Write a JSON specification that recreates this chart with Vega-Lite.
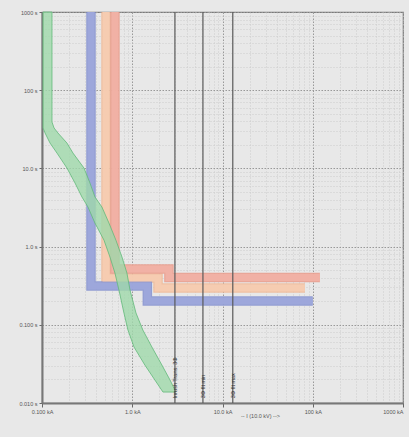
{
  "$schema": "https://vega.github.io/schema/vega-lite/v6.json",
  "width": 361,
  "height": 391,
  "autosize": {"type": "none"},
  "padding": {"left": 42, "top": 12, "right": 6, "bottom": 34},
  "background": "#e8e8e8",
  "config": {
    "view": {"stroke": "#7a7a7a", "strokeWidth": 1.2},
    "font": "Liberation Sans"
  },
  "datasets": {
    "bands": [
      {"s": "orange", "o": 1, "I": 0.512, "t": 1000},
      {"s": "orange", "o": 2, "I": 0.512, "t": 0.396},
      {"s": "orange", "o": 3, "I": 1.93, "t": 0.396},
      {"s": "orange", "o": 4, "I": 1.93, "t": 0.296},
      {"s": "orange", "o": 5, "I": 81.7, "t": 0.296},
      {"s": "red", "o": 1, "I": 0.643, "t": 1000},
      {"s": "red", "o": 2, "I": 0.643, "t": 0.518},
      {"s": "red", "o": 3, "I": 2.55, "t": 0.518},
      {"s": "red", "o": 4, "I": 2.55, "t": 0.403},
      {"s": "red", "o": 5, "I": 120, "t": 0.403},
      {"s": "blue", "o": 1, "I": 0.349, "t": 1000},
      {"s": "blue", "o": 2, "I": 0.349, "t": 0.313},
      {"s": "blue", "o": 3, "I": 1.47, "t": 0.313},
      {"s": "blue", "o": 4, "I": 1.47, "t": 0.201},
      {"s": "blue", "o": 5, "I": 100, "t": 0.201}
    ],
    "green": [
      {"t": 1000, "lo": 0.1026, "hi": 0.129},
      {"t": 39.2, "lo": 0.1026, "hi": 0.129},
      {"t": 32.9, "lo": 0.1026, "hi": 0.136},
      {"t": 28.4, "lo": 0.108, "hi": 0.150},
      {"t": 21.1, "lo": 0.1227, "hi": 0.189},
      {"t": 15.7, "lo": 0.1466, "hi": 0.2205},
      {"t": 10.1, "lo": 0.189, "hi": 0.292},
      {"t": 6.51, "lo": 0.232, "hi": 0.340},
      {"t": 4.31, "lo": 0.277, "hi": 0.386},
      {"t": 3.21, "lo": 0.323, "hi": 0.461},
      {"t": 2.00, "lo": 0.386, "hi": 0.552},
      {"t": 1.21, "lo": 0.486, "hi": 0.659},
      {"t": 0.736, "lo": 0.566, "hi": 0.769},
      {"t": 0.459, "lo": 0.643, "hi": 0.873},
      {"t": 0.279, "lo": 0.712, "hi": 0.944},
      {"t": 0.1416, "lo": 0.809, "hi": 1.10},
      {"t": 0.0858, "lo": 0.896, "hi": 1.31},
      {"t": 0.052, "lo": 1.045, "hi": 1.65},
      {"t": 0.0306, "lo": 1.38, "hi": 2.13},
      {"t": 0.0197, "lo": 1.78, "hi": 2.62},
      {"t": 0.0138, "lo": 2.19, "hi": 3.05}
    ],
    "faults": [
      {"I": 2.97, "label": "Inrush Trans. 3Φ"},
      {"I": 6.07, "label": "3Φ flt min"},
      {"I": 13.0, "label": "3Φ flt max"}
    ]
  },
  "layer": [
    {
      "data": {"name": "bands"},
      "mark": {"type": "line", "strokeWidth": 9.5, "strokeCap": "butt", "strokeJoin": "miter", "opacity": 0.85},
      "encoding": {
        "x": {
          "field": "I", "type": "quantitative",
          "scale": {"type": "log", "domain": [0.1, 1000]},
          "axis": {
            "values": [0.1,0.2,0.3,0.4,0.5,0.6,0.7,0.8,0.9,1,2,3,4,5,6,7,8,9,10,20,30,40,50,60,70,80,90,100,200,300,400,500,600,700,800,900,1000],
            "labelExpr": "datum.value == 0.1 ? '0.100 kA' : datum.value == 1 ? '1.0 kA' : datum.value == 10 ? '10.0 kA' : datum.value == 100 ? '100 kA' : datum.value == 1000 ? '1000 kA' : ''",
            "labelOverlap": false,
            "labelFlush": false,
            "labelAlign": {"condition": {"test": "datum.value == 1000", "value": "right"}, "value": "center"},
            "labelFontSize": 5.5,
            "labelColor": "#555555",
            "labelPadding": 2,
            "tickSize": 4,
            "tickColor": "#666666",
            "tickOpacity": {"condition": {"test": "abs(log(datum.value)/LN10 - round(log(datum.value)/LN10)) < 0.001", "value": 1}, "value": 0},
            "grid": true,
            "gridColor": {"condition": {"test": "abs(log(datum.value)/LN10 - round(log(datum.value)/LN10)) < 0.001", "value": "#999999"}, "value": "#cdcdcd"},
            "gridDash": {"condition": {"test": "abs(log(datum.value)/LN10 - round(log(datum.value)/LN10)) < 0.001", "value": [1.5, 1.5]}, "value": [1, 2]},
            "gridWidth": 1,
            "domainColor": "#777777",
            "domainWidth": 2,
            "title": "-- I (10.0 kV) -->",
            "titleFontSize": 5.5,
            "titleFontWeight": "normal",
            "titleColor": "#555555",
            "titleX": 218,
            "titleY": 12,
            "titleAnchor": null,
            "titleBaseline": "middle"
          }
        },
        "y": {
          "field": "t", "type": "quantitative",
          "scale": {"type": "log", "domain": [0.01, 1000]},
          "axis": {
            "values": [0.01,0.02,0.03,0.04,0.05,0.06,0.07,0.08,0.09,0.1,0.2,0.3,0.4,0.5,0.6,0.7,0.8,0.9,1,2,3,4,5,6,7,8,9,10,20,30,40,50,60,70,80,90,100,200,300,400,500,600,700,800,900,1000],
            "labelExpr": "datum.value == 0.01 ? '0.010 s' : datum.value == 0.1 ? '0.100 s' : datum.value == 1 ? '1.0 s' : datum.value == 10 ? '10.0 s' : datum.value == 100 ? '100 s' : datum.value == 1000 ? '1000 s' : ''",
            "labelOverlap": false,
            "labelFlush": false,
            "labelFontSize": 5.5,
            "labelColor": "#555555",
            "labelPadding": 2,
            "labelBaseline": "middle",
            "tickSize": 3,
            "tickColor": "#666666",
            "tickOpacity": {"condition": {"test": "abs(log(datum.value)/LN10 - round(log(datum.value)/LN10)) < 0.001", "value": 1}, "value": 0},
            "grid": true,
            "gridColor": {"condition": {"test": "abs(log(datum.value)/LN10 - round(log(datum.value)/LN10)) < 0.001", "value": "#999999"}, "value": "#cdcdcd"},
            "gridDash": {"condition": {"test": "abs(log(datum.value)/LN10 - round(log(datum.value)/LN10)) < 0.001", "value": [1.5, 1.5]}, "value": [1, 2]},
            "gridWidth": 1,
            "domainColor": "#777777",
            "domainWidth": 2,
            "title": null
          }
        },
        "detail": {"field": "s"},
        "order": {"field": "o", "type": "quantitative"},
        "color": {"field": "s", "type": "nominal", "scale": {"domain": ["orange", "red", "blue"], "range": ["#eeb896", "#e99a8a", "#8490cf"]}, "legend": null}
      }
    },
    {
      "data": {"name": "bands"},
      "mark": {"type": "line", "strokeWidth": 7, "strokeCap": "butt", "strokeJoin": "miter", "opacity": 0.9},
      "encoding": {
        "x": {"field": "I", "type": "quantitative", "scale": {"type": "log", "domain": [0.1, 1000]}},
        "y": {"field": "t", "type": "quantitative", "scale": {"type": "log", "domain": [0.01, 1000]}},
        "detail": {"field": "s"},
        "order": {"field": "o", "type": "quantitative"},
        "color": {"field": "s", "type": "nominal", "scale": {"domain": ["orange", "red", "blue"], "range": ["#f6cdb2", "#f2b2a6", "#9ea7db"]}, "legend": null}
      }
    },
    {
      "data": {"name": "green"},
      "mark": {"type": "area", "orient": "horizontal", "fill": "#9fd8aa", "fillOpacity": 0.8, "stroke": "#62b97a", "strokeWidth": 0.8},
      "encoding": {
        "y": {"field": "t", "type": "quantitative", "scale": {"type": "log", "domain": [0.01, 1000]}},
        "x": {"field": "lo", "type": "quantitative", "scale": {"type": "log", "domain": [0.1, 1000]}},
        "x2": {"field": "hi"}
      }
    },
    {
      "data": {"name": "faults"},
      "mark": {"type": "rule", "color": "#5a5a5a", "strokeWidth": 1.2},
      "encoding": {
        "x": {"field": "I", "type": "quantitative", "scale": {"type": "log", "domain": [0.1, 1000]}}
      }
    },
    {
      "data": {"name": "faults"},
      "mark": {"type": "text", "angle": 270, "align": "left", "baseline": "middle", "fontSize": 5.5, "color": "#333333", "dx": 3},
      "encoding": {
        "x": {"field": "I", "type": "quantitative", "scale": {"type": "log", "domain": [0.1, 1000]}},
        "y": {"datum": 0.0105, "type": "quantitative", "scale": {"type": "log", "domain": [0.01, 1000]}},
        "text": {"field": "label"}
      }
    }
  ],
  "resolve": {"scale": {"color": "independent"}}
}
